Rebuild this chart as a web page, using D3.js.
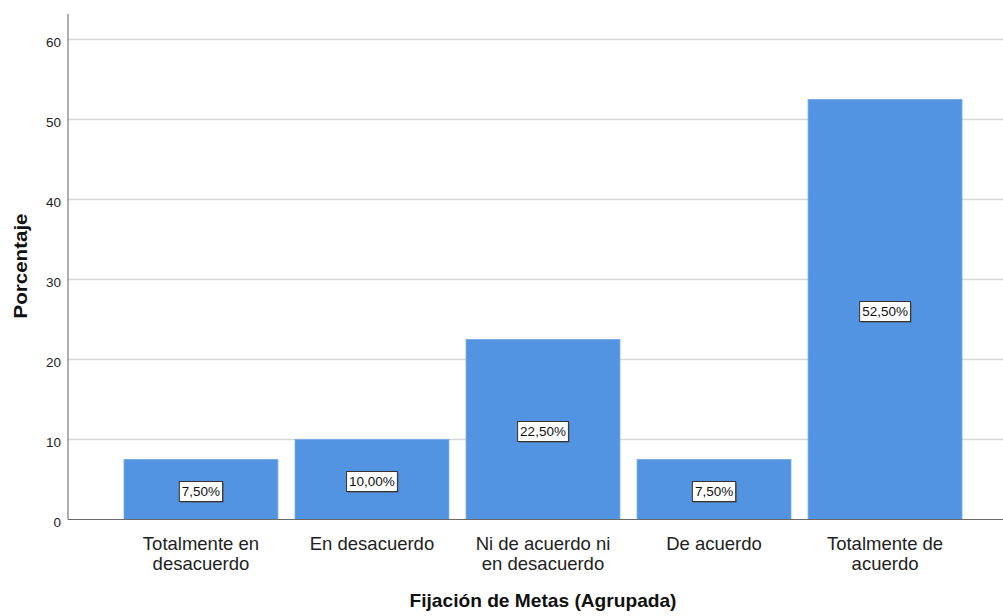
<!DOCTYPE html>
<html>
<head>
<meta charset="utf-8">
<script src="https://cdn.jsdelivr.net/npm/d3@7"></script>
<style>
  html, body { margin: 0; padding: 0; background: #fff; }
  svg { display: block; font-family: "Liberation Sans", Arial, sans-serif; }
</style>
</head>
<body>
<svg id="chart" width="1003" height="616"></svg>
<script>
// Categories (two-line labels) and percentages
const categories = [
  ["Totalmente en", "desacuerdo"],
  ["En desacuerdo"],
  ["Ni de acuerdo ni", "en desacuerdo"],
  ["De acuerdo"],
  ["Totalmente de", "acuerdo"]
];
const percentages = [7.5, 10.0, 22.5, 7.5, 52.5];
const yTicks = [0, 10, 20, 30, 40, 50, 60];
const yTitle = "Porcentaje";
const xTitle = "Fijación de Metas (Agrupada)";

const svg = d3.select("#chart");
const plotLeft = 68, plotRight = 1003, plotTop = 14;

const keys = categories.map((c, i) => i);
const x = d3.scaleBand().domain(keys).range([124, 962]).paddingInner(0.1).paddingOuter(0);
const y = d3.scaleLinear().domain([0, 60]).range([519.5, 39.5]);

const fmt = v => d3.format(".2f")(v).replace(".", ",") + "%";

// Horizontal gridlines
svg.append("g")
  .selectAll("line")
  .data(yTicks.filter(t => t > 0))
  .join("line")
  .attr("x1", plotLeft).attr("x2", plotRight)
  .attr("y1", d => y(d)).attr("y2", d => y(d))
  .attr("stroke", "#d6d6d6").attr("stroke-width", 1.5);

// Bars
svg.append("g")
  .selectAll("rect")
  .data(percentages)
  .join("rect")
  .attr("x", (d, i) => x(i))
  .attr("y", d => y(d))
  .attr("width", x.bandwidth())
  .attr("height", d => y(0) - y(d))
  .attr("fill", "#5294e2")
  .attr("stroke", "#74a9ea")
  .attr("stroke-width", 0.8);

// Y axis
const yAxis = d3.axisLeft(y).tickValues(yTicks).tickSize(0).tickPadding(7);
const gy = svg.append("g").attr("transform", `translate(${plotLeft},0)`).call(yAxis);
gy.select(".domain").remove();
gy.selectAll("text")
  .attr("font-size", 13.5).attr("fill", "#222")
  .attr("dy", "0.55em")
  .attr("font-family", "'Liberation Sans', Arial, sans-serif");
svg.append("line")
  .attr("x1", plotLeft).attr("x2", plotLeft)
  .attr("y1", plotTop).attr("y2", y(0))
  .attr("stroke", "#7a7a7a").attr("stroke-width", 1.2);
svg.append("line")
  .attr("x1", plotLeft).attr("x2", plotRight)
  .attr("y1", y(0)).attr("y2", y(0))
  .attr("stroke", "#6a6a6a").attr("stroke-width", 1.2);

// Category labels
const catG = svg.append("g");
categories.forEach((lines, i) => {
  const t = catG.append("text")
    .attr("x", x(i) + x.bandwidth() / 2)
    .attr("y", 550)
    .attr("text-anchor", "middle")
    .attr("font-size", 18.5)
    .attr("fill", "#222");
  lines.forEach((ln, j) => {
    t.append("tspan")
      .attr("x", x(i) + x.bandwidth() / 2)
      .attr("dy", j === 0 ? 0 : 19.5)
      .text(ln);
  });
});

// Value labels in boxes at bar mid-height
const lab = svg.append("g")
  .selectAll("g")
  .data(percentages)
  .join("g")
  .attr("transform", (d, i) => `translate(${x(i) + x.bandwidth() / 2},${(y(d) + y(0)) / 2 + 2})`);
lab.each(function(d) {
  const g = d3.select(this);
  const txt = g.append("text")
    .attr("text-anchor", "middle")
    .attr("dy", "0.36em")
    .attr("font-size", 13.5)
    .attr("fill", "#111")
    .text(fmt(d));
  const w = txt.node().getComputedTextLength() + 5;
  const h = 20;
  g.insert("rect", "text")
    .attr("x", -w / 2 + 1).attr("y", -h / 2 + 1)
    .attr("width", w).attr("height", h)
    .attr("fill", "#555");
  g.insert("rect", "text")
    .attr("x", -w / 2).attr("y", -h / 2)
    .attr("width", w).attr("height", h)
    .attr("fill", "#fff")
    .attr("stroke", "#333").attr("stroke-width", 1);
});

// Axis titles
svg.append("text")
  .attr("transform", "translate(27,266) rotate(-90)")
  .attr("text-anchor", "middle")
  .attr("font-size", 19).attr("font-weight", "bold").attr("fill", "#111")
  .attr("textLength", 105).attr("lengthAdjust", "spacingAndGlyphs")
  .text(yTitle);
svg.append("text")
  .attr("x", 543).attr("y", 607)
  .attr("text-anchor", "middle")
  .attr("font-size", 18.5).attr("font-weight", "bold").attr("fill", "#111")
  .attr("textLength", 267).attr("lengthAdjust", "spacingAndGlyphs")
  .text(xTitle);
</script>
</body>
</html>
